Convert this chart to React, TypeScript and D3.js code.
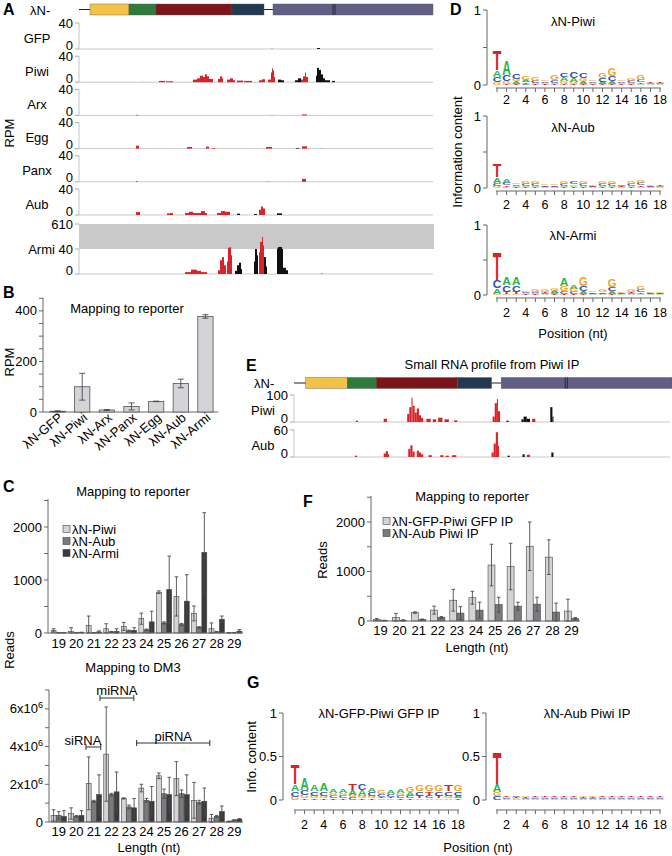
import React from 'react';
import * as d3 from 'd3';

const FONT = "'Liberation Sans', Arial, Helvetica, sans-serif";
const RED = '#dc2229';
const INK = '#111111';
const PALE = '#a0a0a0';
const LIGHT_BAR = '#d3d3d8';
const MID_BAR = '#7b7b7e';
const DARK_BAR = '#3a3a3c';
const AXIS = '#666';

// ---------------- Reporter construct (reporter position units) ----------------
const reporterLength = 354;
const reporterBackbone = [0, 194];
const reporterParts = [[11, 50], [50, 77], [77, 153], [153, 185], [194, 354]];
const reporterColors = ['#f3c248', '#2f7b3c', '#7b151a', '#233950', '#625f86'];
const reporterBreaks = [254, 256];

// ---------------- Panel A coverage (start, end, RPM, strand) ----------------
const trackNamesA = ['GFP', 'Piwi', 'Arx', 'Egg', 'Panx', 'Aub'];
const gfpA = [[192, 194, 0.8, 'g'], [238, 241, 1.5, 'k']];
const piwiA = [
  [62.5, 63.5, 0.8, 'g'], [80, 86, 2, 'r'], [87, 94, 1.5, 'r'],
  [114, 118, 4, 'r'], [118, 121, 6, 'r'], [121, 124, 10, 'r'], [124, 126, 8, 'r'], [126, 128, 12, 'r'], [128, 130, 9, 'r'], [130, 134, 5, 'r'],
  [139, 141, 5, 'r'], [141, 143, 9, 'r'], [143, 144, 6, 'r'],
  [148, 151, 4, 'r'], [151, 154, 6, 'r'], [154, 156, 3, 'r'],
  [158, 164, 2.5, 'r'], [165, 173, 2, 'r'],
  [180, 183, 3, 'r'], [183, 186, 4.5, 'r'],
  [189, 192, 4, 'r'], [192, 193, 15, 'r'], [193, 194, 21, 'r'], [194, 195, 18, 'r'], [195, 196, 8, 'r'],
  [199, 202, 4, 'k'], [202, 205, 3, 'k'],
  [216, 219, 3, 'k'], [219, 222, 6, 'k'], [222, 224, 4, 'r'], [224, 226, 9, 'r'], [226, 227, 15, 'r'], [227, 229, 8, 'r'],
  [237, 238, 10, 'k'], [238, 240, 22, 'k'], [240, 242, 19, 'k'], [242, 244, 12, 'k'], [244, 246, 6, 'k'], [246, 251, 3, 'k'], [253, 256, 2, 'k'],
];
const arxA = [[57, 59, 0.8, 'r'], [192, 194, 0.8, 'g'], [223, 228, 1.5, 'r']];
const eggA = [[57, 60, 4.5, 'r'], [108, 113, 2.5, 'r'], [127, 130, 3, 'r'], [133, 136, 1, 'r'], [187, 193, 2.5, 'r'], [217, 220, 1, 'k'], [223, 228, 3.5, 'r'], [242, 244, 0.8, 'g']];
const panxA = [[57, 59, 1, 'r'], [187, 190, 0.8, 'g'], [223, 227, 4.5, 'r']];
const aubA = [
  [57, 61, 4.5, 'r'], [88, 91, 2.5, 'r'], [91, 94, 3, 'r'],
  [106, 110, 3, 'r'], [110, 114, 5, 'r'], [114, 118, 3, 'r'], [118, 122, 3, 'r'], [122, 126, 6, 'r'], [126, 128, 3, 'r'],
  [138, 142, 3, 'r'], [142, 146, 6, 'r'], [146, 151, 5, 'r'],
  [158, 161, 2, 'k'], [175, 178, 1.5, 'k'],
  [180, 182, 8, 'r'], [182, 184, 13, 'r'], [184, 186, 10, 'r'],
  [198, 203, 2.5, 'k'],
];
const tracksA = [gfpA, piwiA, arxA, eggA, panxA, aubA];
const armiA = [
  [106, 112, 3, 'r'], [112, 118, 7, 'r'], [118, 122, 5, 'r'], [122, 128, 3, 'r'],
  [139, 141, 6, 'r'], [141, 143, 22, 'r'], [143, 145, 27, 'r'], [145, 147, 14, 'r'],
  [148, 149, 20, 'r'], [149, 151, 70, 'r'], [151, 152, 86, 'r'], [152, 153, 30, 'r'],
  [156, 158, 5, 'k'], [158, 160, 14, 'k'], [160, 162, 18, 'k'], [162, 163, 8, 'k'],
  [175, 176, 20, 'k'], [176, 178, 40, 'k'], [178, 179, 30, 'k'],
  [180, 181, 35, 'r'], [181, 183, 200, 'r'], [183, 184, 314, 'r'], [184, 185, 120, 'r'],
  [185, 187, 27, 'k'], [187, 188, 12, 'k'],
  [198, 199, 50, 'k'], [199, 203, 86, 'k'], [203, 204, 40, 'k'], [204, 207, 10, 'k'], [207, 209, 6, 'k'],
  [242, 244, 1.5, 'g'],
];
const armiAxis = [0, 40, 610];

// ---------------- Panel B ----------------
const bCategories = ['λN-GFP', 'λN-Piwi', 'λN-Arx', 'λN-Panx', 'λN-Egg', 'λN-Aub', 'λN-Armi'];
const bRPM = [3, 100, 8, 22, 42, 113, 378];
const bSD = [2, 53, 2, 14, 1, 17, 7];
const bTicks = [0, 200, 400];

// ---------------- Panel C ----------------
const lengths = [19, 20, 21, 22, 23, 24, 25, 26, 27, 28, 29];
const cSeries = ['λN-Piwi', 'λN-Aub', 'λN-Armi'];
const piwiReporter = [50, 30, 145, 80, 125, 270, 770, 690, 370, 80, 5];
const piwiReporterSd = [30, 70, 175, 95, 75, 105, 25, 370, 140, 110, 5];
const aubReporter = [5, 5, 5, 20, 40, 60, 190, 160, 105, 20, 5];
const aubReporterSd = [5, 5, 5, 10, 15, 15, 20, 20, 15, 10, 5];
const armiReporter = [5, 10, 20, 30, 50, 210, 820, 600, 1520, 260, 35];
const armiReporterSd = [5, 5, 20, 50, 50, 200, 630, 500, 750, 60, 30];
const cTopTicks = [0, 1000, 2000];

const piwiDm3 = [0.35, 0.45, 2.05, 3.6, 1.25, 1.8, 2.45, 2.3, 1.15, 0.2, 0.03];
const piwiDm3Sd = [0.3, 0.3, 1.4, 2.5, 0.03, 0.2, 0.15, 0.9, 0.95, 0.2, 0.02];
const aubDm3 = [0.35, 0.3, 1.1, 1.45, 0.8, 1.15, 1.5, 1.5, 1.05, 0.3, 0.1];
const aubDm3Sd = [0.2, 0.05, 0.05, 0.07, 0.1, 0.1, 0.25, 0.2, 0.1, 0.05, 0.02];
const armiDm3 = [0.3, 0.35, 1.45, 1.6, 0.75, 1.1, 1.45, 1.45, 1.1, 0.55, 0.15];
const armiDm3Sd = [0.3, 0.25, 1.05, 1.05, 0.5, 0.78, 0.92, 1.05, 0.7, 0.3, 0.03];
const cBottomTicks = [0, 2, 4, 6];
const smallRnaClasses = ['siRNA', 'miRNA', 'piRNA'];
const smallRnaFrom = [21, 22, 24];
const smallRnaTo = [21, 23, 28];

// ---------------- Panel D / G logos: per position [A, C, G, T] bits ----------------
const positions = d3.range(1, 19);
const logoTicks = [2, 4, 6, 8, 10, 12, 14, 16, 18];
const logoPiwi = [
  [0.09, 0.07, 0.04, 0.26], [0.20, 0.08, 0.03, 0.02], [0.03, 0.06, 0.03, 0.02], [0.03, 0.02, 0.05, 0.02],
  [0.02, 0.03, 0.05, 0.01], [0.02, 0.02, 0.02, 0.01], [0.02, 0.04, 0.06, 0.01], [0.05, 0.05, 0.04, 0.02],
  [0.05, 0.08, 0.03, 0.01], [0.03, 0.07, 0.04, 0.02], [0.02, 0.02, 0.02, 0.01], [0.03, 0.05, 0.07, 0.01],
  [0.04, 0.06, 0.10, 0.02], [0.02, 0.02, 0.02, 0.01], [0.02, 0.03, 0.03, 0.01], [0.02, 0.03, 0.06, 0.02],
  [0.01, 0.01, 0.01, 0.01], [0.01, 0.01, 0.01, 0.01],
];
const logoAub = [
  [0.08, 0.04, 0.03, 0.19], [0.06, 0.03, 0.02, 0.02], [0.02, 0.02, 0.02, 0.01], [0.02, 0.03, 0.04, 0.01],
  [0.02, 0.03, 0.04, 0.01], [0.01, 0.02, 0.02, 0.01], [0.01, 0.02, 0.02, 0.01], [0.02, 0.03, 0.03, 0.01],
  [0.02, 0.03, 0.02, 0.01], [0.02, 0.03, 0.04, 0.01], [0.01, 0.01, 0.02, 0.01], [0.02, 0.03, 0.04, 0.01],
  [0.02, 0.03, 0.03, 0.01], [0.01, 0.02, 0.01, 0.01], [0.02, 0.03, 0.04, 0.01], [0.02, 0.03, 0.04, 0.02],
  [0.01, 0.01, 0.02, 0.01], [0.01, 0.01, 0.01, 0.01],
];
const logoArmi = [
  [0.08, 0.11, 0.02, 0.40], [0.11, 0.10, 0.02, 0.03], [0.12, 0.10, 0.02, 0.03], [0.02, 0.02, 0.02, 0.01],
  [0.02, 0.02, 0.03, 0.01], [0.01, 0.02, 0.03, 0.02], [0.03, 0.02, 0.04, 0.01], [0.12, 0.04, 0.07, 0.02],
  [0.06, 0.03, 0.05, 0.01], [0.04, 0.07, 0.13, 0.02], [0.01, 0.02, 0.02, 0.01], [0.01, 0.02, 0.03, 0.01],
  [0.04, 0.06, 0.11, 0.02], [0.01, 0.01, 0.02, 0.01], [0.01, 0.02, 0.03, 0.02], [0.02, 0.03, 0.05, 0.02],
  [0.01, 0.01, 0.02, 0.01], [0.01, 0.01, 0.02, 0.01],
];
const logoGfpPiwiIP = [
  [0.08, 0.06, 0.04, 0.23], [0.14, 0.06, 0.04, 0.02], [0.08, 0.05, 0.03, 0.02], [0.09, 0.05, 0.03, 0.02],
  [0.04, 0.03, 0.03, 0.02], [0.05, 0.03, 0.03, 0.02], [0.06, 0.03, 0.03, 0.08], [0.07, 0.08, 0.03, 0.02],
  [0.05, 0.04, 0.03, 0.02], [0.02, 0.03, 0.05, 0.02], [0.04, 0.03, 0.02, 0.02], [0.04, 0.03, 0.03, 0.02],
  [0.04, 0.03, 0.06, 0.02], [0.02, 0.05, 0.07, 0.03], [0.02, 0.03, 0.07, 0.05], [0.02, 0.05, 0.08, 0.03],
  [0.02, 0.05, 0.03, 0.07], [0.03, 0.05, 0.08, 0.02],
];
const logoAubPiwiIP = [
  [0.09, 0.045, 0.05, 0.36], [0.01, 0.01, 0.01, 0.01], [0.01, 0.02, 0.01, 0.01], [0.01, 0.01, 0.02, 0.01],
  [0.01, 0.01, 0.01, 0.01], [0.01, 0.01, 0.01, 0.01], [0.01, 0.01, 0.01, 0.01], [0.01, 0.01, 0.01, 0.01],
  [0.01, 0.01, 0.01, 0.01], [0.01, 0.01, 0.02, 0.01], [0.01, 0.01, 0.02, 0.01], [0.01, 0.01, 0.01, 0.01],
  [0.01, 0.01, 0.01, 0.01], [0.01, 0.01, 0.01, 0.01], [0.01, 0.01, 0.01, 0.01], [0.01, 0.01, 0.01, 0.01],
  [0.01, 0.01, 0.01, 0.01], [0.01, 0.01, 0.01, 0.01],
];
const bases = ['A', 'C', 'G', 'T'];
const baseColors = { A: '#2eb24b', C: '#2b4fbf', G: '#f4a21c', T: '#db2128' };
const baseAdvance = { A: 0.722, C: 0.722, G: 0.778, T: 0.611 };

// ---------------- Panel E coverage ----------------
const trackNamesE = ['Piwi', 'Aub'];
const trackMaxE = [100, 60];
const piwiE = [
  [58, 60, 5, 'r'], [84, 87, 12, 'r'], [106, 108, 30, 'r'], [108, 110, 55, 'r'], [110, 111, 90, 'r'], [111, 113, 60, 'r'],
  [113, 115, 35, 'r'], [115, 117, 50, 'r'], [117, 119, 25, 'r'], [119, 121, 15, 'r'], [124, 128, 12, 'r'], [130, 133, 10, 'r'],
  [135, 139, 16, 'r'], [141, 145, 10, 'r'], [150, 153, 6, 'r'], [186, 188, 20, 'r'], [188, 190, 70, 'r'],
  [190, 191, 85, 'r'], [191, 193, 40, 'r'], [199, 201, 5, 'k'], [213, 215, 10, 'k'], [215, 218, 20, 'k'],
  [218, 221, 12, 'k'], [223, 226, 12, 'r'], [240, 242, 55, 'k'], [242, 243, 20, 'k'],
];
const aubE = [
  [57, 59, 3, 'r'], [84, 86, 8, 'r'], [86, 88, 13, 'r'], [88, 89, 6, 'r'], [107, 109, 18, 'r'], [109, 111, 26, 'r'],
  [111, 113, 12, 'r'], [115, 117, 14, 'r'], [117, 119, 10, 'r'], [119, 121, 6, 'r'], [126, 129, 4, 'r'], [137, 140, 4, 'r'],
  [142, 145, 3, 'r'], [148, 152, 4, 'r'], [185, 187, 10, 'r'], [187, 189, 30, 'r'], [189, 191, 55, 'r'],
  [191, 192, 25, 'r'], [200, 202, 3, 'k'], [214, 216, 6, 'k'], [218, 221, 5, 'r'], [241, 243, 10, 'k'],
];
const tracksE = [piwiE, aubE];

// ---------------- Panel F ----------------
const fSeries = ['λN-GFP-Piwi GFP IP', 'λN-Aub Piwi IP'];
const gfpPiwiIP = [30, 70, 170, 220, 420, 470, 1130, 1100, 1510, 1290, 200];
const gfpPiwiIPSd = [20, 85, 15, 80, 220, 130, 420, 470, 490, 350, 240];
const aubPiwiIP = [10, 15, 30, 70, 160, 220, 330, 300, 340, 180, 50];
const aubPiwiIPSd = [5, 10, 10, 20, 130, 160, 150, 80, 140, 180, 20];
const fTicks = [0, 1000, 2000];

// ====================================================================
const strandColor = (s) => (s === 'r' ? RED : s === 'k' ? INK : PALE);

function Label({ x, y, children }) {
  return <text x={x} y={y} fontSize={16} fontWeight="bold" fill="#000">{children}</text>;
}

function Reporter({ range, y }) {
  const xs = d3.scaleLinear().domain([0, reporterLength]).range(range);
  return (
    <g>
      <line x1={xs(reporterBackbone[0])} x2={xs(reporterBackbone[1])} y1={y} y2={y} stroke="#222" strokeWidth={1.2} />
      {reporterParts.map(([a, b], i) => (
        <rect key={i} x={xs(a)} y={y - 5.5} width={xs(b) - xs(a)} height={11} fill={reporterColors[i]} stroke="#55555a" strokeWidth={0.4} />
      ))}
      {reporterBreaks.map((b, i) => (
        <line key={i} x1={xs(b)} x2={xs(b)} y1={y - 5.5} y2={y + 5.5} stroke="#1b1b28" strokeWidth={0.8} />
      ))}
    </g>
  );
}

function Peaks({ data, x, y }) {
  return (
    <g>
      {data.map((p, i) => (
        <rect key={i} x={x(p[0])} width={Math.max(0.8, x(p[1]) - x(p[0]))} y={y(p[2])} height={Math.max(0, y(0) - y(p[2]))} fill={strandColor(p[3])} />
      ))}
    </g>
  );
}

function CoverageTrack({ x, top, base, max, data, name, nameX, tickX, axisX, endX }) {
  const y = d3.scaleLinear().domain([0, max]).range([base, top]);
  return (
    <g>
      <line x1={axisX} x2={endX} y1={base} y2={base} stroke="#c9c9c9" strokeWidth={1} />
      <line x1={axisX} x2={axisX} y1={top} y2={base} stroke="#c4c4c4" strokeWidth={1} />
      <line x1={axisX - 4} x2={axisX} y1={top} y2={top} stroke="#aaa" />
      <line x1={axisX - 4} x2={axisX} y1={base} y2={base} stroke="#aaa" />
      <text x={tickX} y={top} dy="0.35em" textAnchor="end" fontSize={13}>{max}</text>
      <text x={tickX} y={base - 4} dy="0.35em" textAnchor="end" fontSize={13}>0</text>
      <text x={nameX} y={(top + base) / 2 + 2} dy="0.35em" textAnchor="middle" fontSize={13}>{name}</text>
      <Peaks data={data} x={x} y={y} />
    </g>
  );
}

function PanelA() {
  const x = d3.scaleLinear().domain([0, reporterLength]).range([79, 433]);
  const armiY = d3.scaleLinear().domain(armiAxis).range([274, 249, 224]);
  return (
    <g>
      <Label x={3} y={15}>A</Label>
      <text x={30} y={10} dy="0.35em" fontSize={13}>λN-</text>
      <Reporter range={[79, 433]} y={9.5} />
      {trackNamesA.map((name, i) => {
        const top = 23 + i * 33.2;
        return (
          <CoverageTrack key={name} x={x} top={top} base={top + 26} max={40} data={tracksA[i]} name={name}
            nameX={37} tickX={73} axisX={79} endX={433} />
        );
      })}
      <rect x={79} y={armiY(610)} width={355} height={armiY(40) - armiY(610)} fill="#c9c9c9" />
      <line x1={79} x2={433} y1={274} y2={274} stroke="#c9c9c9" />
      <line x1={79} x2={79} y1={armiY(40)} y2={274} stroke="#c4c4c4" />
      {armiAxis.map((v) => (
        <line key={v} x1={75} x2={79} y1={armiY(v)} y2={armiY(v)} stroke="#aaa" />
      ))}
      <text x={73} y={armiY(610)} dy="0.35em" textAnchor="end" fontSize={13}>610</text>
      <text x={73} y={armiY(40)} dy="0.35em" textAnchor="end" fontSize={13}>Armi 40</text>
      <text x={73} y={270} dy="0.35em" textAnchor="end" fontSize={13}>0</text>
      <Peaks data={armiA} x={x} y={armiY} />
      <text transform="translate(14,133) rotate(-90)" textAnchor="middle" fontSize={13}>RPM</text>
    </g>
  );
}

function ErrorBar({ cx, y, mean, sd, cap = 2 }) {
  const lo = y(Math.max(0, mean - sd));
  const hi = y(mean + sd);
  return (
    <g stroke="#4a4a4a" strokeWidth={0.9}>
      <line x1={cx} x2={cx} y1={lo} y2={hi} />
      <line x1={cx - cap} x2={cx + cap} y1={hi} y2={hi} />
      <line x1={cx - cap} x2={cx + cap} y1={lo} y2={lo} />
    </g>
  );
}

function YAxis({ x, y, labels, minor }) {
  const [a, b] = y.range();
  return (
    <g>
      <line x1={x} x2={x} y1={a} y2={b} stroke={AXIS} />
      {minor.map((v) => <line key={'m' + v} x1={x - 4} x2={x} y1={y(v)} y2={y(v)} stroke={AXIS} />)}
      {labels.map((v) => (
        <text key={v} x={x - 6} y={y(v)} dy="0.35em" textAnchor="end" fontSize={13}>{v}</text>
      ))}
    </g>
  );
}

function PanelB() {
  const x = d3.scaleBand().domain(bCategories).range([45, 218]).paddingInner(0.38).paddingOuter(0.2);
  const y = d3.scaleLinear().domain([0, 451]).range([412, 298]);
  return (
    <g>
      <Label x={3} y={298}>B</Label>
      <text x={127} y={308} dy="0.35em" textAnchor="middle" fontSize={13}>Mapping to reporter</text>
      <YAxis x={43} y={y} labels={bTicks} minor={d3.range(0, 451, 50)} />
      <line x1={43} x2={218} y1={412} y2={412} stroke={AXIS} />
      {bCategories.map((c, i) => (
        <g key={c}>
          <rect x={x(c)} y={y(bRPM[i])} width={x.bandwidth()} height={412 - y(bRPM[i])} fill={LIGHT_BAR} stroke="#555" strokeWidth={0.8} />
          <ErrorBar cx={x(c) + x.bandwidth() / 2} y={y} mean={bRPM[i]} sd={bSD[i]} cap={3} />
          <text transform={`translate(${x(c) + x.bandwidth() / 2 + 6},${419}) rotate(-40)`} textAnchor="end" fontSize={13}>{c}</text>
        </g>
      ))}
      <text transform="translate(14,362) rotate(-90)" textAnchor="middle" fontSize={13}>RPM</text>
    </g>
  );
}

function GroupedBars({ x, y, series, sds, colors, base }) {
  const inner = d3.scaleBand().domain(d3.range(series.length)).range([0, x.bandwidth()]).padding(0.05);
  return (
    <g>
      {lengths.map((l, j) => (
        <g key={l}>
          {series.map((s, k) => (
            <rect key={k} x={x(l) + inner(k)} y={y(s[j])} width={inner.bandwidth()} height={base - y(s[j])} fill={colors[k]} stroke="#444" strokeWidth={0.6} />
          ))}
          {series.map((s, k) => (
            <ErrorBar key={'e' + k} cx={x(l) + inner(k) + inner.bandwidth() / 2} y={y} mean={s[j]} sd={sds[k][j]} cap={1.8} />
          ))}
        </g>
      ))}
    </g>
  );
}

function LengthAxis({ x, base, labelY, x0, x1 }) {
  return (
    <g>
      <line x1={x0} x2={x1} y1={base} y2={base} stroke={AXIS} />
      {lengths.map((l) => (
        <text key={l} x={x(l) + x.bandwidth() / 2} y={labelY} dy="0.35em" textAnchor="middle" fontSize={13}>{l}</text>
      ))}
    </g>
  );
}

function Legend({ x, y, names, colors, step = 12 }) {
  return (
    <g>
      {names.map((n, i) => (
        <g key={n}>
          <rect x={x} y={y + i * step - 3.5} width={7} height={7} fill={colors[i]} stroke="#444" strokeWidth={0.6} />
          <text x={x + 9} y={y + i * step} dy="0.35em" fontSize={13}>{n}</text>
        </g>
      ))}
    </g>
  );
}

function PanelC() {
  const colors = [LIGHT_BAR, MID_BAR, DARK_BAR];
  const x = d3.scaleBand().domain(lengths).range([50, 243]).paddingInner(0.1).paddingOuter(0.05);
  const yTop = d3.scaleLinear().domain([0, 2528]).range([633, 499]);
  const yBot = d3.scaleLinear().domain([0, 7]).range([822, 690]);
  const bw = x.bandwidth();
  // bracket geometry for siRNA / miRNA / piRNA annotations
  const bracket = [
    { a: x(smallRnaFrom[0]), b: x(smallRnaTo[0]) + bw - 1, y: 747, ty: 740, tx: x(smallRnaFrom[0]) - 3 },
    { a: x(smallRnaFrom[1]) - 3.5, b: x(smallRnaTo[1]) + bw - 3, y: 698, ty: 690, tx: null },
    { a: x(smallRnaFrom[2]) - 2, b: x(smallRnaTo[2]) + 1, y: 743, ty: 736, tx: null },
  ];
  return (
    <g>
      <Label x={3} y={492}>C</Label>
      <text x={133} y={491} dy="0.35em" textAnchor="middle" fontSize={13}>Mapping to reporter</text>
      <YAxis x={48} y={yTop} labels={cTopTicks} minor={d3.range(0, 2501, 500)} />
      <GroupedBars x={x} y={yTop} base={633} colors={colors}
        series={[piwiReporter, aubReporter, armiReporter]} sds={[piwiReporterSd, aubReporterSd, armiReporterSd]} />
      <LengthAxis x={x} base={633} labelY={643} x0={48} x1={243} />
      <Legend x={63} y={529} names={cSeries} colors={colors} />
      <text transform="translate(14,650) rotate(-90)" textAnchor="middle" fontSize={13}>Reads</text>

      <text x={133} y={667} dy="0.35em" textAnchor="middle" fontSize={13}>Mapping to DM3</text>
      <g>
        <line x1={49} x2={49} y1={822} y2={690} stroke={AXIS} />
        {d3.range(0, 8).map((v) => <line key={v} x1={45} x2={49} y1={yBot(v)} y2={yBot(v)} stroke={AXIS} />)}
        {cBottomTicks.map((v) => (
          <text key={v} x={43} y={yBot(v)} dy="0.35em" textAnchor="end" fontSize={13}>
            {v === 0 ? '0' : <>{v}x10<tspan dy={-5} fontSize={9}>6</tspan></>}
          </text>
        ))}
      </g>
      <GroupedBars x={x} y={yBot} base={822} colors={colors}
        series={[piwiDm3, aubDm3, armiDm3]} sds={[piwiDm3Sd, aubDm3Sd, armiDm3Sd]} />
      <LengthAxis x={x} base={822} labelY={831} x0={49} x1={243} />
      <text x={149} y={847} dy="0.35em" textAnchor="middle" fontSize={13}>Length (nt)</text>
      {smallRnaClasses.map((name, i) => {
        const g = bracket[i];
        const tx = g.tx == null ? (g.a + g.b) / 2 : g.tx;
        return (
          <g key={name}>
            <line x1={g.a} x2={g.b} y1={g.y} y2={g.y} stroke="#333" />
            <line x1={g.a} x2={g.a} y1={g.y - 3} y2={g.y + 3} stroke="#333" />
            <line x1={g.b} x2={g.b} y1={g.y - 3} y2={g.y + 3} stroke="#333" />
            <text x={tx} y={g.ty} dy="0.35em" textAnchor="middle" fontSize={13}>{name}</text>
          </g>
        );
      })}
    </g>
  );
}

function Logo({ data, axisX, pos1, zeroY, oneY, xAxisY, labelY, yLabels, title, titleX, titleY }) {
  const x = d3.scaleLinear().domain([1, 18]).range([pos1, pos1 + 17 * 9.59]);
  const y = d3.scaleLinear().domain([0, 1]).range([zeroY, oneY]);
  const w = 8.6;
  return (
    <g>
      <line x1={axisX} x2={axisX} y1={zeroY} y2={oneY} stroke={AXIS} />
      {[0, 0.5, 1].map((v) => <line key={v} x1={axisX - 4} x2={axisX} y1={y(v)} y2={y(v)} stroke={AXIS} />)}
      {yLabels.map((v) => (
        <text key={v} x={axisX - 6} y={y(v)} dy="0.35em" textAnchor="end" fontSize={13}>{v}</text>
      ))}
      <line x1={x(1) - 1} x2={x(18) + 1} y1={xAxisY} y2={xAxisY} stroke={AXIS} />
      {positions.map((p) => <line key={p} x1={x(p)} x2={x(p)} y1={xAxisY} y2={xAxisY + 4} stroke={AXIS} />)}
      {logoTicks.map((p) => (
        <text key={p} x={x(p)} y={labelY} dy="0.35em" textAnchor="middle" fontSize={12.5}>{p}</text>
      ))}
      <text x={titleX} y={titleY} dy="0.35em" textAnchor="middle" fontSize={13}>{title}</text>
      {data.map((col, i) => {
        const order = bases.map((b, k) => ({ b, v: col[k] })).sort((a, c) => a.v - c.v);
        let acc = 0;
        return (
          <g key={i}>
            {order.map(({ b, v }) => {
              const yb = y(acc);
              acc += v;
              const h = yb - y(acc);
              const sx = w / (baseAdvance[b] * 100);
              const sy = h / 71.6;
              return (
                <text key={b} transform={`translate(${x(i + 1) - w / 2},${yb}) scale(${sx},${sy})`} fontSize={100} fontWeight="bold"
                  fill={baseColors[b]} fontFamily="'Liberation Sans', Arial, sans-serif">{b}</text>
              );
            })}
          </g>
        );
      })}
    </g>
  );
}

function PanelD() {
  return (
    <g>
      <Label x={450} y={15}>D</Label>
      <Logo data={logoPiwi} axisX={487} pos1={497} zeroY={85} oneY={10} xAxisY={88} labelY={100} yLabels={[0, 1]} title="λN-Piwi" titleX={573} titleY={21} />
      <Logo data={logoAub} axisX={487} pos1={497} zeroY={188} oneY={116} xAxisY={191} labelY={205} yLabels={[0, 1]} title="λN-Aub" titleX={573} titleY={127} />
      <Logo data={logoArmi} axisX={487} pos1={497} zeroY={295} oneY={225} xAxisY={298} labelY={313} yLabels={[0, 1]} title="λN-Armi" titleX={573} titleY={235} />
      <text x={573} y={333} dy="0.35em" textAnchor="middle" fontSize={13}>Position (nt)</text>
      <text transform="translate(462,152) rotate(-90)" textAnchor="middle" fontSize={13}>Information content</text>
    </g>
  );
}

function PanelE() {
  const x = d3.scaleLinear().domain([0, reporterLength]).range([294, 672]);
  const tops = [395, 430];
  return (
    <g>
      <Label x={246} y={371}>E</Label>
      <text x={492} y={364} dy="0.35em" textAnchor="middle" fontSize={13}>Small RNA profile from Piwi IP</text>
      <text x={254} y={383} dy="0.35em" fontSize={13}>λN-</text>
      <Reporter range={[294, 672]} y={383} />
      {trackNamesE.map((name, i) => (
        <CoverageTrack key={name} x={x} top={tops[i]} base={tops[i] + 27} max={trackMaxE[i]} data={tracksE[i]} name={name}
          nameX={263} tickX={288} axisX={294} endX={670} />
      ))}
    </g>
  );
}

function PanelF() {
  const colors = [LIGHT_BAR, MID_BAR];
  const x = d3.scaleBand().domain(lengths).range([372, 580]).paddingInner(0.22).paddingOuter(0.05);
  const y = d3.scaleLinear().domain([0, 2525]).range([621, 496]);
  return (
    <g>
      <Label x={303} y={507}>F</Label>
      <text x={472} y={496} dy="0.35em" textAnchor="middle" fontSize={13}>Mapping to reporter</text>
      <YAxis x={371} y={y} labels={fTicks} minor={d3.range(0, 2501, 500)} />
      <GroupedBars x={x} y={y} base={621} colors={colors} series={[gfpPiwiIP, aubPiwiIP]} sds={[gfpPiwiIPSd, aubPiwiIPSd]} />
      <LengthAxis x={x} base={621} labelY={630} x0={371} x1={580} />
      <text x={477} y={647} dy="0.35em" textAnchor="middle" fontSize={13}>Length (nt)</text>
      <Legend x={383} y={521} names={fSeries} colors={colors} />
      <text transform="translate(327,560) rotate(-90)" textAnchor="middle" fontSize={13}>Reads</text>
    </g>
  );
}

function PanelG() {
  return (
    <g>
      <Label x={247} y={688}>G</Label>
      <Logo data={logoGfpPiwiIP} axisX={283} pos1={295} zeroY={800} oneY={713} xAxisY={810} labelY={825} yLabels={[0, 0.5, 1]} title="λN-GFP-Piwi GFP IP" titleX={379} titleY={713} />
      <Logo data={logoAubPiwiIP} axisX={486} pos1={497} zeroY={800} oneY={713} xAxisY={810} labelY={825} yLabels={[0, 0.5, 1]} title="λN-Aub Piwi IP" titleX={587} titleY={713} />
      <text x={478} y={847} dy="0.35em" textAnchor="middle" fontSize={13}>Position (nt)</text>
      <text transform="translate(256,757) rotate(-90)" textAnchor="middle" fontSize={13}>Info. content</text>
    </g>
  );
}

export default function App() {
  return (
    <svg width={672} height={856} viewBox="0 0 672 856" style={{ position: 'absolute', left: 0, top: 0, background: '#fff' }}
      fontFamily={FONT} fill="#000">
      <rect width={672} height={856} fill="#fff" />
      <PanelA />
      <PanelB />
      <PanelC />
      <PanelD />
      <PanelE />
      <PanelF />
      <PanelG />
    </svg>
  );
}
